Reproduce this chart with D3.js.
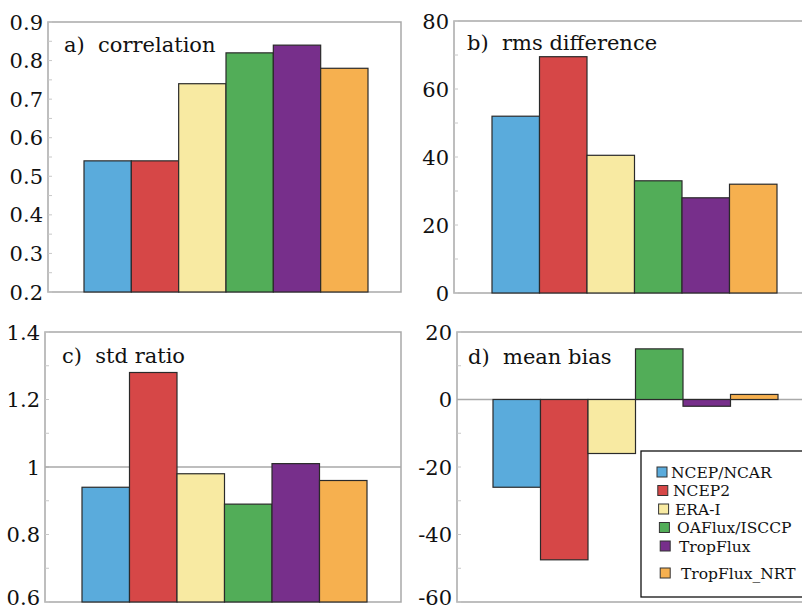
<!DOCTYPE html>
<html>
<head>
    <meta charset="utf-8">
    <title>Flux comparison bars</title>
    <script src="https://d3js.org/d3.v7.min.js"></script>
    <style>
        body { margin: 0; background: #fff; }
    </style>
</head>
<body>
    <script>
        // products, one bar each per panel
        var products = ["NCEP/NCAR", "NCEP2", "ERA-I", "OAFlux/ISCCP", "TropFlux", "TropFlux_NRT"];
        var colors = ["#5aabdc", "#d64747", "#f8eaa2", "#52ad58", "#772f8b", "#f6b04f"];

        // values
        var correlation = [0.54, 0.54, 0.74, 0.82, 0.84, 0.78];
        var rmsDifference = [52, 69.5, 40.5, 33, 28, 32];
        var stdRatio = [0.94, 1.28, 0.98, 0.89, 1.01, 0.96];
        var meanBias = [-26, -47.5, -16, 15, -2, 1.5];

        var ticksA = [0.2, 0.3, 0.4, 0.5, 0.6, 0.7, 0.8, 0.9];
        var ticksB = [0, 20, 40, 60, 80];
        var ticksC = [0.6, 0.8, 1, 1.2, 1.4];
        var ticksD = [-60, -40, -20, 0, 20];

        var serif = "DejaVu Serif";
        var plain = function(d) { return String(+d.toFixed(1)); };   // hyphen minus, "1" not "1.0"

        var panels = [
            { title: "a)  correlation", values: correlation, domain: [0.2, 0.9], ticks: ticksA, minor: 0.05, fmt: d3.format(".1f"),
              box: [48, 401, 22, 292], bars: [84, 368], title_xy: [64, 52], base: 0.2 },
            { title: "b)  rms difference", values: rmsDifference, domain: [0, 80], ticks: ticksB, minor: 10, fmt: plain,
              box: [454, 803, 21, 293], bars: [492, 777], title_xy: [467, 50], base: 0 },
            { title: "c)  std ratio", values: stdRatio, domain: [0.6, 1.4], ticks: ticksC, minor: 0.1, fmt: plain,
              box: [45, 401, 332, 602], bars: [82, 367], title_xy: [62, 363], base: 0.6, refLine: 1 },
            { title: "d)  mean bias", values: meanBias, domain: [-60, 20], ticks: ticksD, minor: 10, fmt: plain,
              box: [457, 803, 332, 602], bars: [493, 778], title_xy: [468, 364], base: 0, refLine: 0 }
        ];

        var svg = d3.select("body").append("svg")
            .attr("width", 802)
            .attr("height", 609);

        panels.forEach(function(p) {
            var g = svg.append("g");
            var x = d3.scaleBand().domain(products).range(p.bars).padding(0);
            var y = d3.scaleLinear().domain(p.domain).range([p.box[3], p.box[2]]);

            // frame
            g.append("rect")
                .attr("x", p.box[0]).attr("y", p.box[2])
                .attr("width", p.box[1] - p.box[0]).attr("height", p.box[3] - p.box[2])
                .attr("fill", "none").attr("stroke", "#a9a9a9").attr("stroke-width", 1.5);

            // faint minor ticks on the left axis
            var minorTicks = d3.range(p.domain[0], p.domain[1] + 1e-9, p.minor);
            g.selectAll(".minor").data(minorTicks).enter().append("line")
                .attr("x1", p.box[0]).attr("x2", p.box[0] + 4)
                .attr("y1", function(d) { return y(d); }).attr("y2", function(d) { return y(d); })
                .attr("stroke", "#c8c8c8").attr("stroke-width", 1);

            if (p.refLine !== undefined) {
                g.append("line")
                    .attr("x1", p.box[0]).attr("x2", p.box[1])
                    .attr("y1", y(p.refLine)).attr("y2", y(p.refLine))
                    .attr("stroke", "#a9a9a9").attr("stroke-width", 1.3);
            }

            g.selectAll(".bar").data(p.values).enter().append("rect")
                .attr("x", function(d, i) { return x(products[i]); })
                .attr("width", x.bandwidth())
                .attr("y", function(d) { return y(Math.max(d, p.base)); })
                .attr("height", function(d) { return Math.abs(y(d) - y(p.base)); })
                .attr("fill", function(d, i) { return colors[i]; })
                .attr("stroke", "#2a2a2a").attr("stroke-width", 1.2);

            // tick labels
            g.selectAll(".tick").data(p.ticks).enter().append("text")
                .attr("x", p.box[0] - 5)
                .attr("y", function(d) { return Math.min(y(d), 597); })
                .attr("dy", "0.36em")
                .attr("text-anchor", "end")
                .attr("font-family", serif)
                .attr("font-size", 21)
                .attr("fill", "#111")
                .text(p.fmt);

            g.append("text")
                .attr("x", p.title_xy[0]).attr("y", p.title_xy[1])
                .attr("font-family", serif)
                .attr("font-size", 21)
                .attr("fill", "#111")
                .style("white-space", "pre")
                .text(p.title);
        });

        // legend inside panel d
        var legend = svg.append("g");
        legend.append("rect")
            .attr("x", 641).attr("y", 451).attr("width", 170).attr("height", 146)
            .attr("fill", "#fff").attr("stroke", "#111").attr("stroke-width", 1.3);

        var ly = d3.scalePoint().domain(products.slice(0, 5)).range([472, 546]);
        var legendY = function(name, i) { return i < 5 ? ly(name) : 573; };

        var items = legend.selectAll(".item").data(products).enter().append("g");
        items.append("rect")
            .attr("x", function(d, i) { return 657 + Math.min(i, 4) * 0.8; })
            .attr("y", function(d, i) { return legendY(d, i) - 5; })
            .attr("width", 10).attr("height", 10)
            .attr("fill", function(d, i) { return colors[i]; })
            .attr("stroke", "#333").attr("stroke-width", 1);
        items.append("text")
            .attr("x", function(d, i) { return 671 + i * 2; })
            .attr("y", function(d, i) { return legendY(d, i); })
            .attr("dy", "0.36em")
            .attr("font-family", serif)
            .attr("font-size", 15.5)
            .attr("fill", "#111")
            .text(function(d) { return d; });
    </script>
</body>
</html>
